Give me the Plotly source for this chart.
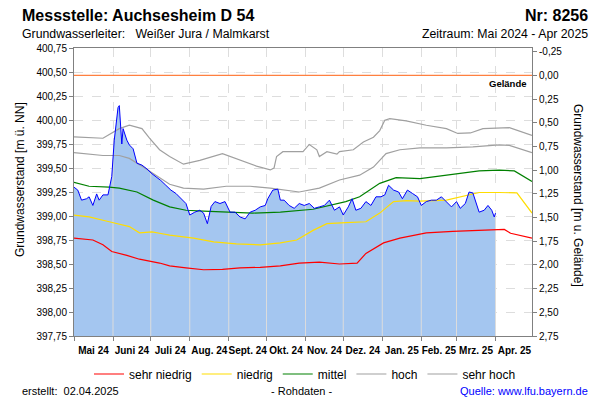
import numpy as np
import pandas as pd
import plotly.graph_objects as go

START = pd.Timestamp("2024-05-01")
END = pd.Timestamp("2025-04-30")
GELAENDE = 400.46  # m ü. NN

# Tagesnummer ab 01.05.2024 und Grundwasserstand [m ü. NN] (Rohdaten)
level_days = [0, 3, 6, 10, 12, 15, 18, 20, 23, 27,
              30, 32, 35, 36, 38, 39, 42, 44, 47, 50,
              54, 58, 62, 65, 69, 73, 77, 81, 85, 89,
              92, 96, 100, 103, 106, 109, 112, 116, 120, 124,
              128, 132, 136, 140, 144, 148, 152, 154, 158, 162,
              164, 167, 171, 175, 179, 183, 187, 191, 195, 199,
              203, 207, 211, 214, 218, 221, 224, 228, 232, 236,
              240, 244, 247, 250, 254, 258, 261, 265, 269, 273,
              276, 280, 284, 288, 292, 296, 300, 304, 307, 311,
              314, 317, 320, 322, 326, 329, 332, 334, 335]
level_values = [399.30, 399.27, 399.165, 399.18, 399.20, 399.11, 399.23, 399.165, 399.22, 399.22,
                399.41, 399.79, 400.13, 400.15, 399.75, 399.91, 399.79, 399.74, 399.70, 399.55,
                399.53, 399.49, 399.44, 399.41, 399.37, 399.32, 399.27, 399.235, 399.18, 399.13,
                399.01, 399.04, 399.06, 399.03, 398.92, 399.10, 399.15, 399.13, 399.15, 399.04,
                399.04, 398.99, 398.97, 399.04, 399.06, 399.095, 399.11, 399.18, 399.27, 399.28,
                399.165, 399.165, 399.11, 399.08, 399.13, 399.11, 399.13, 399.08, 399.095, 399.11,
                399.165, 399.06, 399.095, 399.01, 399.095, 399.18, 399.06, 399.08, 399.15, 399.11,
                399.20, 399.20, 399.22, 399.32, 399.27, 399.25, 399.18, 399.27, 399.235, 399.20,
                399.11, 399.15, 399.165, 399.165, 399.20, 399.15, 399.095, 399.15, 399.08, 399.13,
                399.25, 399.24, 399.11, 399.04, 399.06, 399.11, 399.06, 398.99, 399.03]

# Langjährige Kennlinien
sehr_niedrig_days = [0, 15, 23, 30, 42, 52, 68, 76, 89, 103, 118, 132, 148, 164,
                     179, 195, 211, 225, 232, 246, 259, 272, 280, 301, 322, 342, 347, 364]
sehr_niedrig_values = [398.77, 398.75, 398.70, 398.63, 398.59, 398.55, 398.51, 398.48, 398.46, 398.44,
                       398.445, 398.46, 398.465, 398.48, 398.51, 398.52, 398.50, 398.51, 398.61, 398.72,
                       398.77, 398.80, 398.825, 398.84, 398.85, 398.86, 398.82, 398.77]

niedrig_days = [0, 12, 28, 44, 52, 62, 68, 76, 95, 111, 129, 148, 164, 177,
                190, 201, 216, 232, 243, 254, 264, 275, 296, 312, 322, 338, 352, 364]
niedrig_values = [399.01, 398.99, 398.94, 398.89, 398.825, 398.835, 398.82, 398.80, 398.77, 398.73,
                  398.71, 398.70, 398.72, 398.75, 398.85, 398.92, 398.93, 398.94, 399.03, 399.15,
                  399.16, 399.155, 399.165, 399.21, 399.245, 399.245, 399.24, 399.03]

mittel_days = [0, 12, 28, 36, 50, 63, 76, 89, 103, 121, 142, 164,
               190, 216, 227, 243, 256, 275, 296, 322, 338, 350, 364]
mittel_values = [399.35, 399.31, 399.30, 399.29, 399.25, 399.165, 399.095, 399.06, 399.05, 399.04, 399.03, 399.04,
                 399.07, 399.15, 399.20, 399.34, 399.40, 399.39, 399.425, 399.47, 399.477, 399.47, 399.36]

hoch_days = [0, 12, 23, 36, 44, 55, 65, 76, 87, 103, 121, 140, 156, 171,
             179, 195, 211, 227, 238, 248, 259, 275, 296, 317, 338, 346, 364]
hoch_values = [399.66, 399.645, 399.63, 399.63, 399.60, 399.51, 399.425, 399.33, 399.29, 399.28,
               399.31, 399.31, 399.29, 399.26, 399.25, 399.29, 399.375, 399.425, 399.51, 399.65,
               399.69, 399.71, 399.71, 399.72, 399.74, 399.735, 399.66]

sehr_hoch_days = [0, 23, 36, 44, 54, 60, 68, 76, 87, 100, 118, 129, 145, 156, 159, 161, 166,
                  182, 187, 193, 195, 201, 209, 211, 222, 230, 238, 243, 247, 251,
                  264, 280, 296, 305, 315, 325, 338, 346, 364]
sehr_hoch_values = [399.824, 399.81, 399.91, 399.946, 399.91, 399.81, 399.69, 399.62, 399.54, 399.58,
                    399.65, 399.60, 399.52, 399.48, 399.50, 399.62, 399.67,
                    399.67, 399.745, 399.69, 399.62, 399.67, 399.645, 399.67, 399.69, 399.77,
                    399.82, 399.89, 399.997, 400.015,
                    399.99, 399.945, 399.91, 399.86, 399.865, 399.91, 399.92, 399.92, 399.84]

month_labels = ["Mai 24", "Juni 24", "Juli 24", "Aug. 24", "Sept. 24", "Okt. 24",
                "Nov. 24", "Dez. 24", "Jan. 25", "Feb. 25", "Mrz. 25", "Apr. 25"]

FONT = "Liberation Sans, Arial, sans-serif"
FILL = "#a4c6f0"
GRID = "#dddddd"
FRAME = "#808080"

# the page body keeps the browser's 8px margin, so the figure is drawn 8px in
PAGE = 8
W, H = 600 - PAGE, 400 - PAGE
# plot area in window pixels
PLOT_L, PLOT_R, PLOT_T, PLOT_B = 74, 532, 48, 336


def to_dates(days):
    return START + pd.to_timedelta(days, unit="D")


def px(x):
    return (x - PLOT_L) / (PLOT_R - PLOT_L)


def py(y):
    return (PLOT_B - y) / (PLOT_B - PLOT_T)


def fmt(v):
    return f"{v:.2f}".replace(".", ",")


level_dates = to_dates(level_days)
month_starts = pd.date_range(START, "2025-05-01", freq="MS")
month_mids = month_starts[:-1] + (month_starts[1:] - month_starts[:-1]) / 2

fig = go.Figure()

fig.add_trace(go.Scatter(
    x=level_dates, y=level_values, mode="lines", fill="tozeroy",
    fillcolor=FILL, line=dict(width=0), showlegend=False, hoverinfo="skip",
))

# helle Monatslinien innerhalb der Fläche
seg_x, seg_y = [], []
last_day = level_days[-1]
for ms in month_starts[1:]:
    d = (ms - START).days
    if d > last_day:
        break
    seg_x += [ms, ms, None]
    seg_y += [397.75, float(np.interp(d, level_days, level_values)), None]
fig.add_trace(go.Scatter(
    x=seg_x, y=seg_y, mode="lines", line=dict(color="#dcdcdc", width=1),
    showlegend=False, hoverinfo="skip",
))

stats = [
    ("sehr niedrig", sehr_niedrig_days, sehr_niedrig_values, "#ff0000"),
    ("niedrig", niedrig_days, niedrig_values, "#ffdd00"),
    ("mittel", mittel_days, mittel_values, "#008000"),
    ("hoch", hoch_days, hoch_values, "#a0a0a0"),
    ("sehr hoch", sehr_hoch_days, sehr_hoch_values, "#a0a0a0"),
]
for name, days, vals, color in stats:
    fig.add_trace(go.Scatter(
        x=to_dates(days), y=vals, mode="lines", name=name,
        line=dict(color=color, width=1.2),
    ))

fig.add_trace(go.Scatter(
    x=level_dates, y=level_values, mode="lines", line=dict(color="#0000ff", width=1),
    showlegend=False, name="Grundwasserstand",
))

# Geländeoberkante auf der rechten Achse (Tiefe 0)
fig.add_trace(go.Scatter(
    x=[START, END], y=[0, 0], yaxis="y2", mode="lines",
    line=dict(color="#ff8040", width=1.3), showlegend=False, hoverinfo="skip",
))

left_ticks = np.arange(397.75, 400.76, 0.25)
right_ticks = np.arange(-0.25, 2.76, 0.25)

fig.update_layout(
    width=W, height=H,
    margin=dict(l=PLOT_L - PAGE, r=W - (PLOT_R - PAGE), t=PLOT_T - PAGE, b=H - (PLOT_B - PAGE),
                autoexpand=False),
    paper_bgcolor="white", plot_bgcolor="white",
    font=dict(family=FONT, size=10, color="black"),
    separators=",.",
    showlegend=True,
    legend=dict(orientation="h", x=px(305), y=py(374), xanchor="center", yanchor="middle",
                font=dict(size=12), itemwidth=30, bgcolor="rgba(0,0,0,0)"),
    xaxis=dict(
        range=[START, END], tickvals=month_mids, ticktext=month_labels, tickangle=0,
        ticks="outside", ticklen=5, tickcolor="rgba(0,0,0,0)",
        tickfont=dict(size=10, weight="bold"),
        showgrid=False, showline=True, linecolor=FRAME, mirror=True, zeroline=False,
        minor=dict(tickvals=month_starts, ticks="outside", ticklen=4, tickcolor=FRAME,
                   showgrid=True, gridcolor=GRID, griddash="dash"),
    ),
    yaxis=dict(
        range=[397.75, 400.75], tickvals=left_ticks, ticktext=[fmt(v) for v in left_ticks],
        ticks="outside", ticklen=4, tickcolor=FRAME,
        showgrid=True, gridcolor=GRID, griddash="dash",
        showline=True, linecolor=FRAME, mirror=True, zeroline=False,
    ),
    yaxis2=dict(
        overlaying="y", side="right",
        range=[2.75, GELAENDE - 400.75],
        tickvals=right_ticks, ticktext=[fmt(v) for v in right_ticks],
        ticks="outside", ticklen=4, tickcolor=FRAME,
        showgrid=False, showline=True, linecolor=FRAME, zeroline=False,
    ),
)

annotations = [
    dict(x=px(20), y=py(16), text="Messstelle: Auchsesheim D 54", xanchor="left",
         font=dict(size=16, weight="bold")),
    dict(x=px(590), y=py(16), text="Nr: 8256", xanchor="right",
         font=dict(size=16, weight="bold")),
    dict(x=px(20), y=py(34), text="Grundwasserleiter:\u00a0\u00a0 Weißer Jura / Malmkarst",
         xanchor="left", font=dict(size=12.3)),
    dict(x=px(590), y=py(34), text="Zeitraum: Mai 2024 - Apr 2025", xanchor="right",
         font=dict(size=12.3)),
    dict(x=px(20), y=py(180), text="Grundwasserstand [m ü. NN]", textangle=-90,
         xanchor="center", font=dict(size=12)),
    dict(x=px(578), y=py(195), text="Grundwasserstand [m u. Gelände]", textangle=90,
         xanchor="center", font=dict(size=12)),
    dict(x=px(20), y=py(391), text="erstellt:\u00a0\u00a002.04.2025", xanchor="left",
         font=dict(size=11)),
    dict(x=px(301), y=py(391), text="- Rohdaten -", xanchor="center", font=dict(size=11)),
    dict(x=px(590), y=py(391), text="Quelle: www.lfu.bayern.de", xanchor="right",
         font=dict(size=11, color="#0000ff")),
]
for a in annotations:
    fig.add_annotation(xref="paper", yref="paper", yanchor="middle", showarrow=False, **a)

fig.add_annotation(x=END, y=0, xref="x", yref="y2", text="Gelände", showarrow=False,
                   xanchor="right", yanchor="top", xshift=-3, yshift=-1,
                   font=dict(size=9.5, weight="bold"))

fig.write_html("out.html")
